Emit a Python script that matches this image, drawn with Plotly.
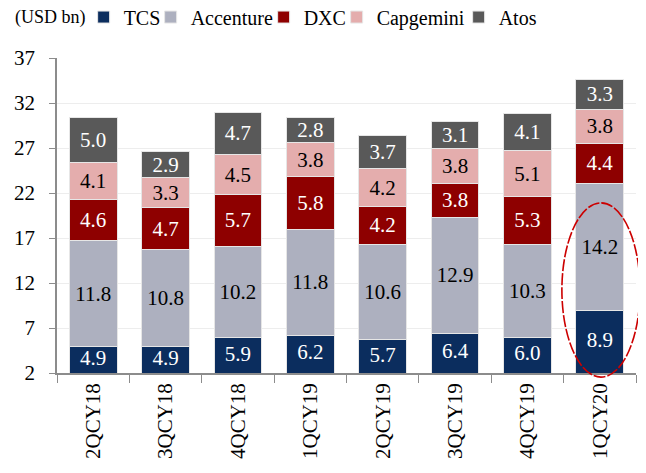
import plotly.graph_objects as go

quarters = ["2QCY18", "3QCY18", "4QCY18", "1QCY19", "2QCY19", "3QCY19", "4QCY19", "1QCY20"]
tcs = [4.9, 4.9, 5.9, 6.2, 5.7, 6.4, 6.0, 8.9]
accenture = [11.8, 10.8, 10.2, 11.8, 10.6, 12.9, 10.3, 14.2]
dxc = [4.6, 4.7, 5.7, 5.8, 4.2, 3.8, 5.3, 4.4]
capgemini = [4.1, 3.3, 4.5, 3.8, 4.2, 3.8, 5.1, 3.8]
atos = [5.0, 2.9, 4.7, 2.8, 3.7, 3.1, 4.1, 3.3]
y_ticks = [2, 7, 12, 17, 22, 27, 32, 37]
Y_MIN, Y_MAX = 2, 37

FONT = "Liberation Serif"
# name, values, bar colour, label colour, legend entry width (px)
series = [
    ("TCS", tcs, "#0B2D5E", "white", 22),
    ("Accenture", accenture, "#ADB0BF", "black", 68),
    ("DXC", dxc, "#8E0000", "white", 28),
    ("Capgemini", capgemini, "#E4ADAD", "black", 77),
    ("Atos", atos, "#595959", "white", 40),
]

fig = go.Figure()
for name, vals, color, tcolor, lw in series:
    first = name == "TCS"
    fig.add_trace(go.Bar(
        name=name, x=quarters, y=vals,
        marker=dict(color=color, line=dict(color="#E6E6E6", width=1)),
        text=[f"{v:.1f}" for v in vals],
        textposition="none" if first else "inside", insidetextanchor="middle",
        constraintext="none",
        textfont=dict(family=FONT, size=21, color=tcolor),
        legendwidth=lw,
    ))

# TCS labels centred in the visible part of the bar (axis starts at 2)
fig.add_trace(go.Scatter(
    x=quarters, y=[(Y_MIN + v) / 2 for v in tcs], mode="text",
    text=[f"{v:.1f}" for v in tcs], textposition="middle center",
    textfont=dict(family=FONT, size=21, color="white"),
    showlegend=False, hoverinfo="skip",
))

fig.update_layout(
    barmode="stack", bargap=0.34,
    width=638, height=465,
    margin=dict(l=49, r=10, t=50, b=100, autoexpand=False),
    plot_bgcolor="white", paper_bgcolor="white",
    font=dict(family=FONT, size=20, color="black"),
    legend=dict(orientation="h", x=0.046, xanchor="left", y=1.13, yref="paper",
                yanchor="middle", font=dict(family=FONT, size=20, color="black"),
                traceorder="normal", itemwidth=30, tracegroupgap=0,
                bgcolor="rgba(0,0,0,0)"),
    showlegend=True,
)
fig.update_yaxes(range=[Y_MIN, Y_MAX], tickvals=y_ticks, showgrid=True, gridcolor="#EDEDED",
                 gridwidth=1, showline=True, linecolor="#8C8C8C", linewidth=1.5,
                 ticks="outside", ticklen=6, tickcolor="#8C8C8C",
                 tickfont=dict(family=FONT, size=21, color="black"),
                 ticklabelstandoff=10, zeroline=False)
fig.update_xaxes(showline=True, linecolor="#8C8C8C", linewidth=1.5, ticks="outside",
                 tickson="boundaries", ticklen=8, tickcolor="#8C8C8C", tickangle=-90,
                 tickfont=dict(family=FONT, size=21, color="black"))
fig.add_annotation(text="(USD bn)", xref="paper", yref="paper", x=-0.076, y=1.13,
                   xanchor="left", yanchor="middle", showarrow=False,
                   font=dict(family=FONT, size=18, color="black"))
fig.add_shape(type="circle", xref="paper", yref="paper", x0=0.872, x1=1.007, y0=-0.013, y1=0.54,
              line=dict(color="#CC0000", width=1.6, dash="12px,2px"))
fig.write_html("out.html")
